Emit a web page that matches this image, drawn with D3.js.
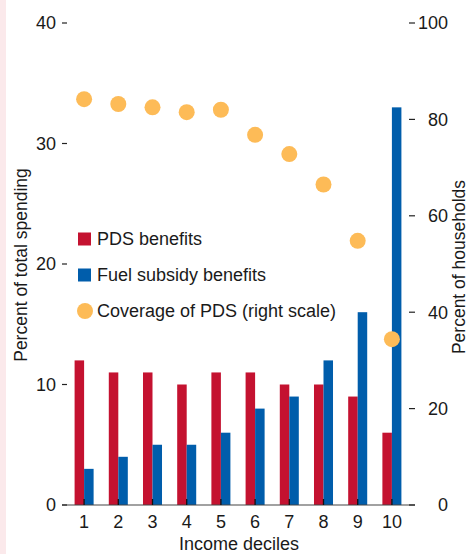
<!DOCTYPE html>
<html>
<head>
<meta charset="utf-8">
<script src="https://cdn.jsdelivr.net/npm/d3@7"></script>
<style>
  html, body { margin: 0; padding: 0; background: #fff; }
  svg { display: block; }
  text { font-family: "Liberation Sans Narrow", "Arial Narrow", "Liberation Sans", sans-serif; fill: #1a1a1a; }
</style>
</head>
<body>
<svg id="chart" width="470" height="554"></svg>
<script>
// Income deciles and their values
const deciles = ["1", "2", "3", "4", "5", "6", "7", "8", "9", "10"];
const pdsBenefits = [12, 11, 11, 10, 11, 11, 10, 10, 9, 6];
const fuelBenefits = [3, 4, 5, 5, 6, 8, 9, 12, 16, 33];
const pdsCoverage = [84.2, 83.2, 82.5, 81.5, 82.0, 76.8, 72.8, 66.5, 54.8, 34.4];
const leftTicks = [0, 10, 20, 30, 40];
const rightTicks = [0, 20, 40, 60, 80, 100];
const seriesNames = ["PDS benefits", "Fuel subsidy benefits", "Coverage of PDS (right scale)"];

const colors = { pds: "#c41230", fuel: "#005dab", coverage: "#fdbb57" };

const svg = d3.select("#chart");

// faint pink strip on the left edge
svg.append("rect").attr("x", 0).attr("y", 0).attr("width", 6).attr("height", 554).attr("fill", "#fbe9eb");

const plotLeft = 67, plotRight = 409, plotTop = 23, plotBottom = 505;

const x = d3.scaleBand().domain(deciles).range([plotLeft, plotRight]).paddingInner(0.444).paddingOuter(0.222);
const xSub = d3.scaleBand().domain(["pds", "fuel"]).range([0, x.bandwidth()]);
const yLeft = d3.scaleLinear().domain([0, 40]).range([plotBottom, plotTop]);
const yRight = d3.scaleLinear().domain([0, 100]).range([plotBottom, plotTop]);

// bars
const groups = svg.append("g").selectAll("g")
  .data(deciles.map((d, i) => ({ d, pds: pdsBenefits[i], fuel: fuelBenefits[i] })))
  .join("g")
  .attr("transform", r => `translate(${x(r.d)},0)`);

groups.selectAll("rect")
  .data(r => [{ k: "pds", v: r.pds }, { k: "fuel", v: r.fuel }])
  .join("rect")
  .attr("x", b => xSub(b.k))
  .attr("width", xSub.bandwidth())
  .attr("y", b => yLeft(b.v))
  .attr("height", b => yLeft(0) - yLeft(b.v))
  .attr("fill", b => colors[b.k]);

// coverage dots (right scale)
svg.append("g").selectAll("circle")
  .data(deciles.map((d, i) => ({ d, v: pdsCoverage[i] })))
  .join("circle")
  .attr("cx", r => x(r.d) + x.bandwidth() / 2)
  .attr("cy", r => yRight(r.v))
  .attr("r", 8)
  .attr("fill", colors.coverage);

// baseline
svg.append("line")
  .attr("x1", 62).attr("x2", 415)
  .attr("y1", plotBottom).attr("y2", plotBottom)
  .attr("stroke", "#444").attr("stroke-width", 1.2);

// x ticks (pointing up into the plot) and labels
const xAxis = svg.append("g");
xAxis.selectAll("line").data(deciles).join("line")
  .attr("x1", d => x(d) + x.bandwidth() / 2).attr("x2", d => x(d) + x.bandwidth() / 2)
  .attr("y1", plotBottom).attr("y2", plotBottom - 6)
  .attr("stroke", "#111").attr("stroke-width", 1.3);
xAxis.selectAll("text").data(deciles).join("text")
  .attr("x", d => x(d) + x.bandwidth() / 2)
  .attr("y", 528)
  .attr("text-anchor", "middle")
  .attr("font-size", 18)
  .text(d => d);

svg.append("text").attr("x", 239).attr("y", 550).attr("text-anchor", "middle")
  .attr("font-size", 18).text("Income deciles");

// left axis
const lAxis = svg.append("g");
lAxis.selectAll("line").data(leftTicks).join("line")
  .attr("x1", 62).attr("x2", 67)
  .attr("y1", d => yLeft(d)).attr("y2", d => yLeft(d))
  .attr("stroke", "#222").attr("stroke-width", 1.2);
lAxis.selectAll("text").data(leftTicks).join("text")
  .attr("x", 56).attr("y", d => yLeft(d))
  .attr("dy", "0.35em")
  .attr("text-anchor", "end")
  .attr("font-size", 18)
  .text(d => d);

svg.append("text")
  .attr("transform", "translate(27,265) rotate(-90)")
  .attr("text-anchor", "middle")
  .attr("font-size", 17.5)
  .text("Percent of total spending");

// right axis
const rAxis = svg.append("g");
rAxis.selectAll("line").data(rightTicks).join("line")
  .attr("x1", 409).attr("x2", 415)
  .attr("y1", d => yRight(d)).attr("y2", d => yRight(d))
  .attr("stroke", "#222").attr("stroke-width", 1.2);
rAxis.selectAll("text").data(rightTicks).join("text")
  .attr("x", 448).attr("y", d => yRight(d))
  .attr("dy", "0.35em")
  .attr("text-anchor", "end")
  .attr("font-size", 18)
  .text(d => d);

svg.append("text")
  .attr("transform", "translate(465,267) rotate(-90)")
  .attr("text-anchor", "middle")
  .attr("font-size", 17.5)
  .text("Percent of households");

// legend
const legend = svg.append("g").attr("transform", "translate(78,239)");
const legendItems = [
  { name: seriesNames[0], color: colors.pds, shape: "rect" },
  { name: seriesNames[1], color: colors.fuel, shape: "rect" },
  { name: seriesNames[2], color: colors.coverage, shape: "circle" }
];
const li = legend.selectAll("g").data(legendItems).join("g")
  .attr("transform", (d, i) => `translate(0,${i * 36})`);
li.filter(d => d.shape === "rect").append("rect")
  .attr("x", 0).attr("y", -6.5).attr("width", 13).attr("height", 13).attr("fill", d => d.color);
li.filter(d => d.shape === "circle").append("circle")
  .attr("cx", 7).attr("cy", 0).attr("r", 8).attr("fill", d => d.color);
li.append("text")
  .attr("x", 19).attr("y", 0).attr("dy", "0.35em")
  .attr("font-size", 18)
  .text(d => d.name);
</script>
</body>
</html>
